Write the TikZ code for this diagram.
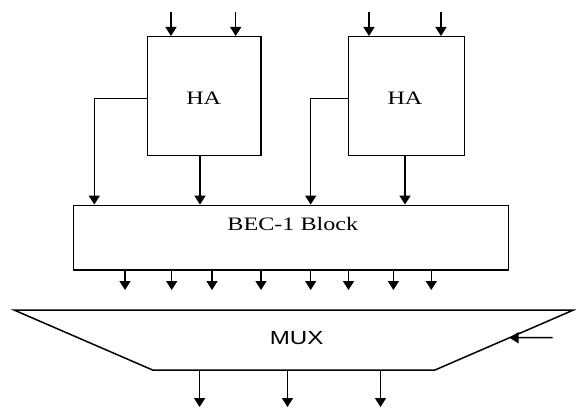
\documentclass[tikz,border=0pt]{standalone}
\usepackage{fontspec}
\setmainfont{Liberation Serif}
\newfontfamily\muxfont{Liberation Sans}
\usetikzlibrary{arrows.meta,calc}
\begin{document}
\begin{tikzpicture}[x=1pt,y=-1pt,
  wire/.style={line width=1.5pt,black},
  arr/.style={wire,-{Triangle[width=11pt,length=9pt]}},
  blockbox/.style={draw,line width=1.5pt,fill=white,inner sep=0pt},
  lbl/.style={inner sep=0pt,font=\fontsize{19}{20}\selectfont}]
\useasboundingbox (0,0) rectangle (576,408);
\fill[white] (0,0) rectangle (576,408);
% half adders
\node[blockbox,minimum width=113.7pt,minimum height=119pt] (ha1) at (204.2,96.2) {};
\node[blockbox,minimum width=116pt,minimum height=119pt] (ha2) at (406.3,96.2) {};
\node[lbl] (ha1t) at (203.7,98.7) {\scalebox{1.27}[1]{HA}};
\node[lbl] (ha2t) at (405,98.7) {\scalebox{1.27}[1]{HA}};
% BEC block
\node[blockbox,minimum width=435pt,minimum height=64.7pt] (bec) at (291,237.65) {};
\node[lbl] (bect) at (292.8,223.8) {\scalebox{1.27}[1]{BEC-1 Block}};
% inputs
\coordinate (i1) at (171,12);
\coordinate (i2) at (235.7,12);
\coordinate (i3) at (369,12);
\coordinate (i4) at (441,12);
\foreach \c/\h in {i1/ha1,i2/ha1,i3/ha2,i4/ha2}
  \draw[arr] (\c) -- (\c |- \h.north);
% HA outputs to BEC
\coordinate (l1) at (94.3,98.7);
\coordinate (l2) at (310.7,98.7);
\draw[arr] (l1 -| ha1.west) -- (l1) -- (l1 |- bec.north);
\draw[arr] (l2 -| ha2.west) -- (l2) -- (l2 |- bec.north);
\coordinate (b1) at (200,155.7);
\coordinate (b2) at (405,155.7);
\draw[arr] (b1 |- ha1.south) -- (b1 |- bec.north);
\draw[arr] (b2 |- ha2.south) -- (b2 |- bec.north);
% BEC outputs
\foreach \x [count=\k] in {125,171.7,212,261,310.7,348.5,393.4,431.3} {
  \coordinate (o\k) at (\x,290);
  \draw[arr] (o\k |- bec.south) -- (o\k);
}
% MUX
\coordinate (m1) at (14,310);
\coordinate (m2) at (573.5,310);
\coordinate (m3) at (435,370);
\coordinate (m4) at (152.6,370);
\draw[wire,line join=miter] (m1) -- (m2) -- (m3) -- (m4) -- cycle;
\node[lbl,font=\muxfont\fontsize{19}{20}\selectfont] (muxt) at (296.7,338.3) {\scalebox{1.27}[1]{MUX}};
\coordinate (sel) at (552.6,337.7);
\coordinate (selend) at ($(m2)!0.462!(m3)$);
\draw[arr] (sel) -- (selend);
% MUX outputs
\foreach \x [count=\k] in {199.6,287.5,380.5} {
  \coordinate (y\k) at (\x,407);
  \draw[arr] (y\k |- m3) -- (y\k);
}
\end{tikzpicture}
\end{document}
